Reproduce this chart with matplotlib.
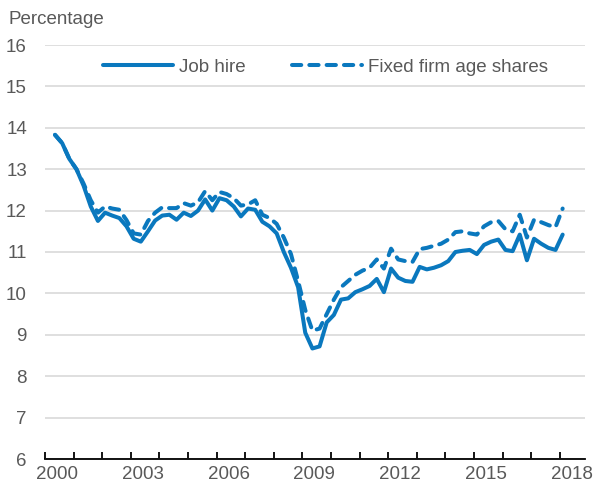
import matplotlib
matplotlib.use("Agg")
import matplotlib.pyplot as plt
import numpy as np

# Quarterly series, 2000Q1 through 2017Q4 (percent)
job_hire = [
    13.83, 13.63, 13.25, 13.00, 12.60, 12.10, 11.75, 11.95,
    11.88, 11.82, 11.62, 11.32, 11.25, 11.50, 11.76, 11.88,
    11.90, 11.78, 11.95, 11.87, 12.00, 12.27, 12.00, 12.30,
    12.25, 12.10, 11.86, 12.05, 12.02, 11.73, 11.62, 11.45,
    11.00, 10.62, 10.15, 9.05, 8.67, 8.72, 9.30, 9.48,
    9.85, 9.88, 10.03, 10.10, 10.18, 10.35, 10.03, 10.60,
    10.38, 10.30, 10.28, 10.64, 10.58, 10.62, 10.68, 10.78,
    11.00, 11.03, 11.05, 10.95, 11.17, 11.25, 11.30, 11.05,
    11.02, 11.42, 10.80, 11.32, 11.20, 11.10, 11.05, 11.42,
]
fixed_age = [
    13.83, 13.63, 13.25, 13.00, 12.65, 12.25, 11.95, 12.10,
    12.05, 12.02, 11.77, 11.45, 11.42, 11.75, 11.95, 12.08,
    12.06, 12.06, 12.18, 12.12, 12.20, 12.47, 12.25, 12.45,
    12.40, 12.30, 12.12, 12.15, 12.25, 11.90, 11.82, 11.68,
    11.35, 10.95, 10.30, 9.60, 9.10, 9.15, 9.50, 9.85,
    10.15, 10.30, 10.45, 10.55, 10.62, 10.82, 10.60, 11.08,
    10.82, 10.78, 10.76, 11.07, 11.10, 11.15, 11.20, 11.30,
    11.48, 11.50, 11.45, 11.42, 11.62, 11.72, 11.75, 11.55,
    11.50, 11.90, 11.35, 11.78, 11.72, 11.65, 11.60, 12.05,
]
start_year = 2000
year_labels = ["2000", "2003", "2006", "2009", "2012", "2015", "2018"]
y_ticks = list(range(6, 17))

labels = ["Job hire", "Fixed firm age shares"]

BLUE = "#0a78be"
GREY_TXT = "#595959"
GRID = "#d9d9d9"
FONT = ["Liberation Sans", "DejaVu Sans"]
FS = 13.5

plt.rcParams["font.family"] = FONT
plt.rcParams["font.size"] = FS

quarters = start_year + np.arange(len(job_hire)) / 4.0

fig = plt.figure(figsize=(5.95, 4.86), dpi=100)
ax = fig.add_axes([45 / 595, 1 - 459 / 486, 540 / 595, 414 / 486])

lw = 2.9
ax.plot(quarters, job_hire, color=BLUE, lw=lw, solid_capstyle="round",
        solid_joinstyle="round", label=labels[0], zorder=3)
ax.plot(quarters, fixed_age, color=BLUE, lw=lw, linestyle=(0, (2.3, 2.0)),
        dash_capstyle="round", dash_joinstyle="round", label=labels[1], zorder=4)

# Axis ranges and ticks
x0 = start_year - 0.35
ax.set_xlim(x0, x0 + 540 / 28.6)
ax.set_ylim(6, 16)

ax.set_xticks([x0 + k for k in range(19)])
ax.set_xticklabels([])
ax.tick_params(axis="x", which="major", direction="in", length=5, width=1.3,
               color="black")
label_pos = [x0 + 0.42 + 3 * k for k in range(len(year_labels))]
ax.set_xticks(label_pos, minor=True)
ax.set_xticklabels(year_labels, minor=True)
ax.tick_params(axis="x", which="minor", length=0, pad=5, labelcolor=GREY_TXT)

ax.set_yticks(y_ticks)
ax.set_yticklabels([str(v) for v in y_ticks])
ax.tick_params(axis="y", length=0, pad=13, labelcolor=GREY_TXT)

ax.grid(axis="y", color=GRID, lw=1.2, zorder=0)
ax.set_axisbelow(True)
for side in ("top", "right", "left"):
    ax.spines[side].set_visible(False)
ax.spines["bottom"].set_color("black")
ax.spines["bottom"].set_linewidth(1.3)
ax.spines["bottom"].set_zorder(5)

fig.text(8 / 595, 1 - 20 / 486, "Percentage", color=GREY_TXT, fontsize=FS,
         ha="left", va="center")

leg = fig.legend(loc="center left", bbox_to_anchor=(103 / 595, 1 - 67 / 486),
                 ncol=2, frameon=False, borderpad=0, borderaxespad=0,
                 handlelength=3.73, handletextpad=0.32, columnspacing=2.5,
                 fontsize=FS)
for t in leg.get_texts():
    t.set_color(GREY_TXT)

fig.savefig("out.png", dpi=100)
